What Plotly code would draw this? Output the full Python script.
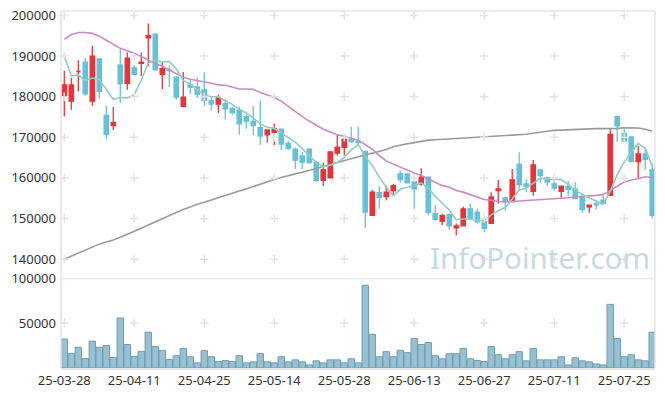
import plotly.graph_objects as go
from plotly.subplots import make_subplots

# ---------------- data ----------------
dates = ["25-03-28","25-03-31","25-04-01","25-04-02","25-04-03","25-04-04","25-04-07","25-04-08","25-04-09","25-04-10",
         "25-04-11","25-04-14","25-04-15","25-04-16","25-04-17","25-04-18","25-04-21","25-04-22","25-04-23","25-04-24",
         "25-04-25","25-04-28","25-04-29","25-04-30","25-05-02","25-05-07","25-05-08","25-05-09","25-05-12","25-05-13",
         "25-05-14","25-05-15","25-05-16","25-05-19","25-05-20","25-05-21","25-05-22","25-05-23","25-05-26","25-05-27",
         "25-05-28","25-05-29","25-05-30","25-06-02","25-06-04","25-06-05","25-06-09","25-06-10","25-06-11","25-06-12",
         "25-06-13","25-06-16","25-06-17","25-06-18","25-06-19","25-06-20","25-06-23","25-06-24","25-06-25","25-06-26",
         "25-06-27","25-06-30","25-07-01","25-07-02","25-07-03","25-07-04","25-07-07","25-07-08","25-07-09","25-07-10",
         "25-07-11","25-07-14","25-07-15","25-07-16","25-07-17","25-07-18","25-07-21","25-07-22","25-07-23","25-07-24",
         "25-07-25","25-07-28","25-07-29","25-07-30","25-07-31"]

opens = [180300,178900,186200,188500,178900,189300,175400,172900,187800,183300,
         187100,188200,194500,195400,185500,186600,184800,177600,182900,182400,
         181700,179000,178200,178300,177100,176600,175100,173900,172400,170600,
         171200,172000,168500,167100,165400,167100,163800,159400,160000,166100,
         167500,169400,169000,166500,150800,156400,155400,156900,161000,161000,
         159000,158500,160200,151200,149400,151000,147700,148200,152400,151600,
         149200,148800,156900,155100,154200,163400,158500,156700,162000,160000,
         158500,156700,158000,157300,155500,152900,153600,154500,155700,175100,
         170900,170100,164000,165900,162000]
highs = [186400,184600,189000,189500,192500,189500,177800,177500,191700,190900,
         187700,190900,198000,195400,188600,187700,185100,186100,184300,184700,
         186000,179900,180500,179500,177500,177500,175600,177800,179000,172000,
         173400,172000,169100,167500,166400,167300,164200,163800,166400,170600,
         170200,172600,172600,166500,157000,158000,158100,158500,161800,161000,
         159800,162400,160200,153300,151200,151000,148800,152900,153700,152400,
         150400,156500,159500,155300,162200,166300,159800,164400,162000,160300,
         160000,158000,159200,159000,155500,153300,154300,155700,172100,175100,
         172100,170100,167900,167500,163400]
lows = [175100,176800,181300,180300,177800,179500,169500,171800,178500,181700,
        185400,185100,187500,186600,181900,182400,179300,177600,180700,179700,
        177800,176600,176000,174400,175600,170600,172100,170500,168100,168700,
        168100,166900,166900,162200,162200,163500,159000,158000,160000,165500,
        165500,168700,167900,147600,150800,152400,154500,155900,158800,158800,
        152400,158100,150800,149400,148400,147200,145900,148200,149600,148800,
        146600,148800,153700,152000,154200,156900,156500,155600,158800,158000,
        156900,155100,155500,154900,151400,151400,152200,153400,155700,168900,
        168900,164000,159900,162000,150000]
closes = [182900,182900,186200,180700,190000,181300,170700,173700,183200,189500,
          185500,188500,195000,186600,186900,186400,179900,179900,182300,180600,
          179100,178200,179800,177000,176100,173300,174000,172900,170300,171800,
          172100,168300,167300,164400,163900,163800,159400,162000,166400,167600,
          169500,168900,168700,151600,156500,155200,156500,158100,159600,158800,
          157300,160200,151500,149800,150700,148200,148200,152400,150000,149200,
          147600,155300,157300,154300,159500,158300,157900,163200,160600,159000,
          157500,158000,157200,154900,152200,153300,153400,153700,170700,172800,
          169100,164000,165900,164600,150800]
volumes = [32150,16250,23060,10560,29880,23060,24990,11700,55660,26130,
           12840,18520,39760,23850,19650,9430,13630,21580,12500,5680,
           19310,12500,7160,8290,7160,13630,5680,6820,15900,6820,
           5680,12500,6820,9090,6820,3410,7950,5680,9090,9090,
           5680,10220,5680,92000,37490,12500,18180,12500,19650,17040,
           32940,26130,28400,13630,10220,15900,15900,21580,10220,8290,
           7160,23850,14770,10220,14770,18180,7950,21580,9090,9090,
           9090,12500,3410,11360,7950,6820,4540,3410,70770,32940,
           12500,14770,9090,7950,39760]
ma5 = [190000,185100,185400,184000,184600,184200,181800,179300,179800,179700,
       180500,184100,188300,189000,188500,188700,186900,184000,183100,181800,
       180400,180000,180000,179000,178100,176900,176000,174700,173300,172500,
       172200,171100,170000,168800,167200,165600,163800,162700,163100,163800,
       165000,166900,168200,165300,163100,160200,157700,155600,157200,157700,
       158100,158800,157500,155500,153900,152100,149700,149900,149900,149600,
       149500,150900,151900,152700,154800,157000,157500,158600,159900,159800,
       159600,159600,158400,157300,155900,155100,154200,153500,156700,160800,
       163900,166100,168500,167300,162900]
ma20 = [194100,195300,195800,195800,195600,194900,193900,192900,191900,191300,
        190700,189900,189000,188200,187500,186600,185600,184800,184300,183900,
        183600,183300,182900,182800,182400,181900,181900,181800,181000,180400,
        179800,178900,177600,176400,175100,174000,172900,172000,171300,170600,
        170300,169700,169300,168300,167100,165500,164200,163400,162600,162000,
        161200,160600,159800,159000,158100,157700,156900,156500,155900,155300,
        154700,154500,154200,154100,154200,154350,154500,154600,154700,154800,
        154900,155000,155100,155300,155400,155500,155700,155900,156900,157800,
        159000,159500,159800,160300,160100]
ma120 = [140000,140750,141500,142250,143000,143700,144200,144700,145400,146100,
         146800,147600,148400,149200,150100,150800,151500,152200,152900,153500,
         154000,154600,155100,155600,156200,156800,157300,157900,158400,159000,
         159600,160100,160600,161000,161400,161800,162300,162800,163300,163800,
         164300,164800,165300,165700,166100,166500,167000,167700,168100,168400,
         168700,169000,169300,169400,169500,169550,169600,169700,169800,169900,
         170000,170200,170300,170400,170500,170600,170750,171000,171300,171500,
         171700,171800,171900,172000,172050,172100,172150,172150,172150,172200,
         172350,172400,172300,172000,171500]
tick_idx = [0, 10, 20, 30, 40, 50, 60, 70, 80]
price_ticks = [140000, 150000, 160000, 170000, 180000, 190000, 200000]
vol_ticks = [50000, 100000]

# ---------------- figure ----------------
x = list(range(len(dates)))
fig = make_subplots(rows=2, cols=1, shared_xaxes=True, vertical_spacing=0.012,
                    row_heights=[0.745, 0.255])

RED = "#ec3237"
BLUE = "#63c2da"
GRID = "#e3e3e3"

fig.add_trace(go.Candlestick(
    x=x, open=opens, high=highs, low=lows, close=closes,
    increasing=dict(line=dict(color=RED, width=1.3), fillcolor=RED),
    decreasing=dict(line=dict(color=BLUE, width=1.3), fillcolor=BLUE),
    whiskerwidth=0, showlegend=False, hoverinfo="skip"), row=1, col=1)

fig.add_trace(go.Scatter(x=x, y=ma120, mode="lines", line=dict(color="#9a9a9a", width=1.6),
                         showlegend=False, hoverinfo="skip"), row=1, col=1)
fig.add_trace(go.Scatter(x=x, y=ma20, mode="lines", line=dict(color="#c98ac6", width=1.6),
                         showlegend=False, hoverinfo="skip"), row=1, col=1)
fig.add_trace(go.Scatter(x=x, y=ma5, mode="lines", line=dict(color="#8fcdbd", width=1.6),
                         showlegend=False, hoverinfo="skip"), row=1, col=1)

fig.add_trace(go.Bar(x=x, y=volumes, marker=dict(color="#98c0d0", line=dict(color="#6f9fb5", width=1)),
                     width=0.92, showlegend=False, hoverinfo="skip"), row=2, col=1)

# cross-style grid marks
gx, gy = [], []
for t in tick_idx:
    for p in price_ticks:
        gx.append(t); gy.append(p)
fig.add_trace(go.Scatter(x=gx, y=gy, mode="markers",
                         marker=dict(symbol="cross-thin", size=6, line=dict(color=GRID, width=1.5)),
                         showlegend=False, hoverinfo="skip", cliponaxis=False), row=1, col=1)
vx, vy = [], []
for t in tick_idx:
    vx.append(t); vy.append(50000)
fig.add_trace(go.Scatter(x=vx, y=vy, mode="markers",
                         marker=dict(symbol="cross-thin", size=6, line=dict(color=GRID, width=1.5)),
                         showlegend=False, hoverinfo="skip", cliponaxis=False), row=2, col=1)

xr = [-0.47, 84.4]
tickfont = dict(family="Noto Sans", size=13, color="#333333")
fig.update_xaxes(range=xr, showgrid=False, zeroline=False, rangeslider=dict(visible=False),
                 tickvals=tick_idx, ticktext=[dates[i] for i in tick_idx], ticks="",
                 showline=False, row=1, col=1, showticklabels=False, automargin=False)
fig.update_xaxes(range=xr, showgrid=False, zeroline=False, tickvals=tick_idx,
                 ticktext=[dates[i] for i in tick_idx], ticks="", tickfont=tickfont,
                 showline=True, linecolor="#e6e6e6", linewidth=1.5, row=2, col=1, automargin=False)
fig.update_yaxes(range=[136400, 201100], tickvals=price_ticks, ticktext=[str(v) for v in price_ticks],
                 showgrid=False, zeroline=False, automargin=False, ticklabelstandoff=4,
                 tickfont=tickfont, ticks="", showline=False, row=1, col=1)
fig.update_yaxes(range=[0, 100000], tickvals=vol_ticks, ticktext=[str(v) for v in vol_ticks],
                 showgrid=False, zeroline=False, automargin=False, ticklabelstandoff=4,
                 tickfont=tickfont, ticks="", showline=False, row=2, col=1)

fig.update_layout(
    template="none",
    width=665, height=397,
    margin=dict(l=61, r=10, t=11, b=29, autoexpand=False),
    paper_bgcolor="white", plot_bgcolor="white",
    bargap=0.08, boxgap=0.12,
    font=dict(family="Noto Sans", color="#333333"),
    shapes=[
        dict(type="line", xref="paper", yref="paper", x0=0, x1=1, y0=1, y1=1,
             line=dict(color="#e6e6e6", width=1.5)),
        dict(type="line", xref="paper", yref="paper", x0=1, x1=1, y0=0, y1=1,
             line=dict(color="#e6e6e6", width=1.5)),
        dict(type="line", xref="paper", yref="paper", x0=0, x1=0, y0=0, y1=1,
             line=dict(color="#e3e3e3", width=1.5)),
        dict(type="line", xref="x2", yref="y2", x0=xr[0], x1=xr[1], y0=100000, y1=100000,
             line=dict(color="#e6e6e6", width=2.5)),
    ],
    annotations=[
        dict(text="InfoPointer.com", xref="paper", yref="paper", x=0.995, y=0.31,
             xanchor="right", yanchor="middle", showarrow=False,
             font=dict(family="Noto Sans", size=29.5, color="#c6dae6")),
    ],
)

fig.write_html("out.html", config={"displayModeBar": False, "staticPlot": True},
               post_script="document.body.style.margin='0';")
